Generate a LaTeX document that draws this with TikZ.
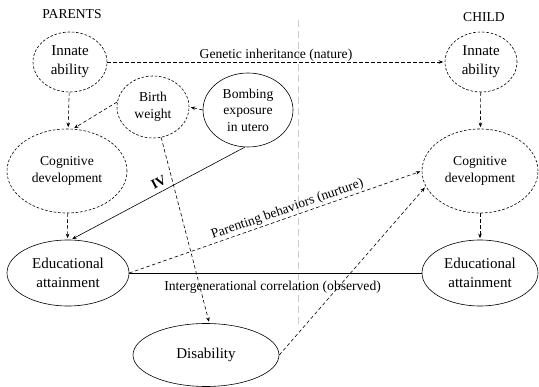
\documentclass[tikz,border=0pt]{standalone}
\usepackage{fontspec}
\setmainfont{Liberation Serif}
\usetikzlibrary{arrows.meta,shapes.geometric}

\tikzset{
  ell/.style={ellipse, draw, line width=0.6pt, inner sep=0pt, align=center,
              font=\fontsize{13.6}{16.5}\selectfont},
  bigtext/.style={font=\fontsize{15}{19}\selectfont},
  dashell/.style={ell, dash pattern=on 2.6pt off 1.8pt},
  link/.style={line width=0.6pt},
  dlink/.style={link, dash pattern=on 3.5pt off 2.5pt},
  tip/.style={-{Stealth[length=4.5pt,width=3.6pt]}, shorten >=1.5pt},
  lbl/.style={font=\fontsize{13.6}{16}\selectfont, inner sep=1.5pt},
  divider/.style={gray!40, line width=1pt, dash pattern=on 7pt off 4pt},
}

\begin{document}
\begin{tikzpicture}[x=1pt, y=-1pt]
  \useasboundingbox (0,0) rectangle (539,387);

  % generation divider
  \coordinate (divtop) at (298,20);
  \coordinate (divbot) at (298,325);
  \draw[divider] (divtop) -- (divbot);

  % headings
  \node[lbl] (hpar) at (72,14) {PARENTS};
  \node[lbl] (hchi) at (484,17) {CHILD};

  % parent side
  \node[dashell, bigtext, minimum width=74pt, minimum height=60pt] (innP) at (70,62) {Innate\\ability};
  \node[dashell, minimum width=120pt, minimum height=84pt] (cogP) at (67,171) {Cognitive\\development};
  \node[ell, bigtext, minimum width=122pt, minimum height=66pt] (eduP) at (68,273) {Educational\\attainment};
  \node[dashell, minimum width=72pt, minimum height=62pt] (birth) at (153,107) {Birth\\weight};
  \node[ell, minimum width=90pt, minimum height=74pt] (bomb) at (248,110) {Bombing\\exposure\\in utero};
  \node[ell, bigtext, minimum width=146pt, minimum height=63pt] (dis) at (206,355) {Disability};

  % child side
  \node[dashell, bigtext, minimum width=72pt, minimum height=60pt] (innC) at (481,62) {Innate\\ability};
  \node[dashell, minimum width=116pt, minimum height=84pt] (cogC) at (480,171) {Cognitive\\development};
  \node[ell, bigtext, minimum width=116pt, minimum height=66pt] (eduC) at (480,273) {Educational\\attainment};

  % connectors
  \draw[dlink, tip] (innP.east) -- node[lbl, above, yshift=-1.5pt] {Genetic inheritance (nature)} (innC.west);
  \draw[dlink, tip] (innP) -- (cogP);
  \draw[dlink, tip] (cogP) -- (eduP);
  \draw[dlink, tip] (birth.172) -- (cogP.82);
  \draw[dlink, tip] (bomb.west) -- (birth.east);
  \draw[link, tip] (bomb.-95) -- node[lbl, above=3pt, sloped, pos=0.47, font=\fontsize{13.6}{16}\selectfont\bfseries] {IV} (eduP.85);
  \draw[dlink, tip] (birth.-75) -- (dis.84);
  \draw[dlink, tip] (eduP.east) -- node[lbl, above, sloped, pos=0.55] {Parenting behaviors (nurture)} (cogC.180);
  \draw[link] (eduP.east) -- node[lbl, below=6pt, pos=0.49] {Intergenerational correlation (observed)} (eduC.west);
  \draw[dlink, tip] (dis.east) -- (cogC.196);
  \draw[dlink, tip] (innC) -- (cogC);
  \draw[dlink, tip] (cogC) -- (eduC);
\end{tikzpicture}
\end{document}
